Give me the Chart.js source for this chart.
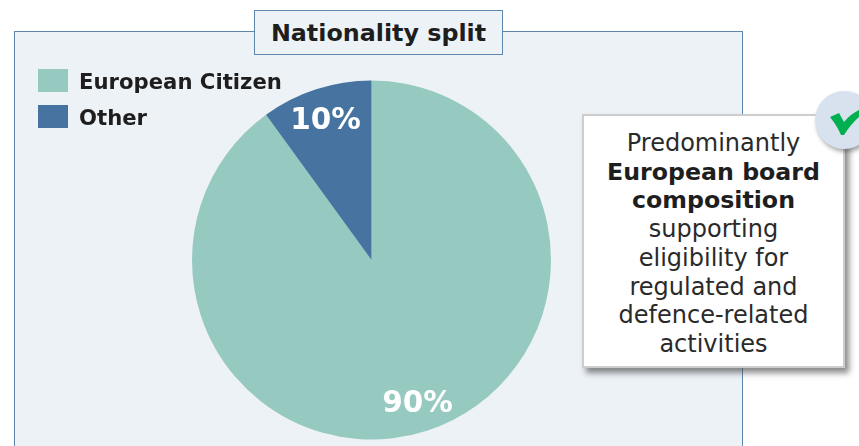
<!DOCTYPE html>
<html>
<head>
<meta charset="utf-8">
<script src="https://cdn.jsdelivr.net/npm/chart.js@4"></script>
<style>
html, body { margin: 0; padding: 0; background: #fff; overflow: hidden; }
body { width: 859px; height: 446px; position: relative; font-family: "DejaVu Sans", sans-serif; color: #1e1e1e; }
#panel { position: absolute; left: 14px; top: 31px; width: 727px; height: 430px; background: #edf2f7; border: 1px solid #5f87ae; }
#title { position: absolute; left: 254px; top: 10px; width: 247px; height: 43px; line-height: 44px; text-align: center; background: #edf2f7; border: 1px solid #5f87ae; font-weight: bold; font-size: 23.8px; }
#chartWrap { position: absolute; left: 192px; top: 80px; width: 359px; height: 360px; }
#legend { position: absolute; left: 38px; top: 69px; font-weight: bold; font-size: 21.2px; }
.legendRow { height: 36px; display: flex; align-items: flex-start; }
.legendBox { width: 30px; height: 23px; margin-right: 11px; }
.legendText { line-height: 26px; }
#note { position: absolute; left: 582px; top: 114px; width: 263px; height: 254px; box-sizing: border-box; padding: 13px 10px 0; background: #fff; border: 2px solid #cdcdcd; box-shadow: 4px 5px 6px rgba(60,60,60,.6); text-align: center; font-size: 24px; line-height: 28.7px; color: #2a2a2a; }
#note b { font-size: 23.7px; color: #1e1e1e; }
#badge { position: absolute; left: 815px; top: 91px; width: 58px; height: 58px; border-radius: 50%; background: #d7e2ee; box-shadow: 2px 3px 4px rgba(60,60,60,.45); }
#badge svg { position: absolute; left: 15px; top: 17px; }
</style>
</head>
<body>
<div id="panel"></div>
<div id="title">Nationality split</div>
<div id="chartWrap"><canvas id="nationalityChart"></canvas></div>
<div id="legend"></div>
<div id="note">Predominantly<br><b>European board composition</b><br>supporting eligibility for regulated and defence-related activities</div>
<div id="badge"><svg width="34" height="27" viewBox="0 0 34 27"><path d="M0 9 L9 5 L14 14 C19 8 25 3 34 0 L34 5 C27 10 20 17 14 27 L11 27 C8 20 4 14 0 9 Z" fill="#00b050"/></svg></div>
<script>
// Données du graphique
const categories = ['European Citizen', 'Other'];
const shares = [90, 10];
const sliceColors = ['#96cac1', '#46739f'];

// Légende
const legend = document.getElementById('legend');
categories.forEach((name, i) => {
    const row = document.createElement('div');
    row.className = 'legendRow';
    row.innerHTML = `<div class="legendBox" style="background:${sliceColors[i]}"></div><div class="legendText">${name}</div>`;
    legend.appendChild(row);
});

// Pourcentages sur les parts
const sliceLabels = {
    id: 'sliceLabels',
    afterDatasetsDraw(chart) {
        const ctx = chart.ctx;
        chart.getDatasetMeta(0).data.forEach((arc, i) => {
            const p = arc.getProps(['x', 'y', 'startAngle', 'endAngle', 'outerRadius'], true);
            const mid = (p.startAngle + p.endAngle) / 2;
            const r = p.outerRadius * 0.83;
            ctx.save();
            ctx.fillStyle = '#fff';
            ctx.font = 'bold 29.5px "DejaVu Sans"';
            ctx.textAlign = 'center';
            ctx.textBaseline = 'middle';
            ctx.fillText(shares[i] + '%', p.x + r * Math.cos(mid), p.y + r * Math.sin(mid) + 3);
            ctx.restore();
        });
    }
};

new Chart(document.getElementById('nationalityChart').getContext('2d'), {
    type: 'pie',
    data: {
        labels: categories,
        datasets: [{
            data: shares,
            backgroundColor: sliceColors,
            borderWidth: 0
        }]
    },
    options: {
        responsive: true,
        maintainAspectRatio: false,
        animation: { duration: 0 },
        plugins: { legend: { display: false }, tooltip: { enabled: false } }
    },
    plugins: [sliceLabels]
});
</script>
</body>
</html>
